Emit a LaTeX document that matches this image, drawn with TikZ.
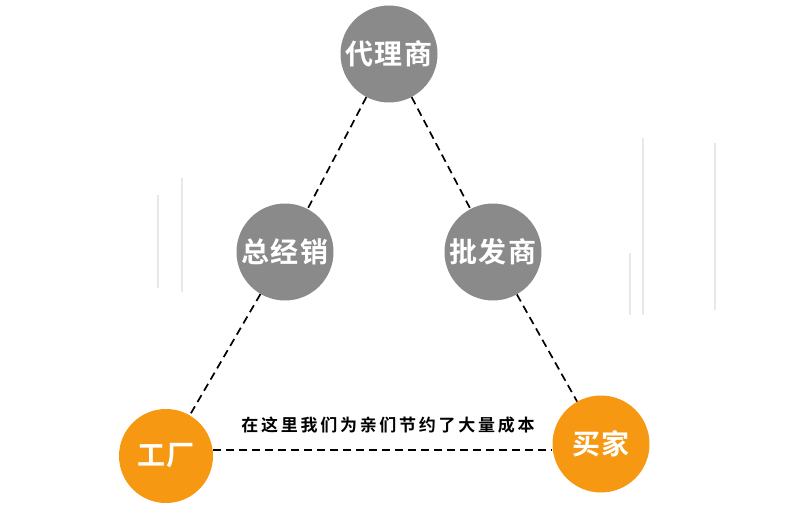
\documentclass[tikz,border=0pt]{standalone}
\usepackage{fontspec}
\newfontfamily\cjk{Noto Sans CJK SC}[BoldFont={Noto Sans CJK SC Bold},LetterSpace=6]
\newfontfamily\cjkspaced{Noto Sans CJK SC}[BoldFont={Noto Sans CJK SC Bold},LetterSpace=16]
\definecolor{circgray}{RGB}{138,138,138}
\definecolor{circorange}{RGB}{246,152,18}
\definecolor{faint}{RGB}{232,232,232}
\tikzset{
  graycirc/.style={circle,fill=circgray,minimum size=97pt,inner sep=0pt,text=white,font=\cjk\bfseries\fontsize{28}{32}\selectfont},
  orangecirc/.style={circle,fill=circorange,minimum size=94pt,inner sep=0pt,text=white,font=\cjk\bfseries\fontsize{28}{32}\selectfont},
  dashline/.style={draw=black,line width=1.7pt,dash pattern=on 8pt off 5pt},
  faintline/.style={draw=faint,line width=1.4pt}
}
\begin{document}
\begin{tikzpicture}[x=1pt,y=-1pt]
\useasboundingbox (0,0) rectangle (790,524);
% faint decorative lines
\draw[faintline] (158,195) -- (158,288);
\draw[faintline] (182,178) -- (182,292);
\draw[faintline] (643,138) -- (643,315);
\draw[faintline] (630,253) -- (630,315);
\draw[faintline] (715,143) -- (715,310);
% nodes
\node[graycirc] (agent) at (389,54) {代理商};
\node[graycirc] (dist) at (285,252) {总经销};
\node[graycirc] (whole) at (493,252) {批发商};
\node[orangecirc] (factory) at (166,456) {工厂};
\node[orangecirc,minimum size=97pt] (buyer) at (601,444) {买家};
% connectors
\draw[dashline] (agent) -- (dist);
\draw[dashline] (dist) -- (factory);
\draw[dashline] (agent) -- (whole);
\draw[dashline] (whole) -- (buyer);
\draw[dashline] (factory.east |- 0,450) coordinate (fe) -- (buyer.west |- 0,450) coordinate (bw);
\node[font=\cjkspaced\bfseries\fontsize{17}{20}\selectfont,text=black,inner sep=0pt] (caption) at (388,425) {在这里我们为亲们节约了大量成本};
\end{tikzpicture}
\end{document}
